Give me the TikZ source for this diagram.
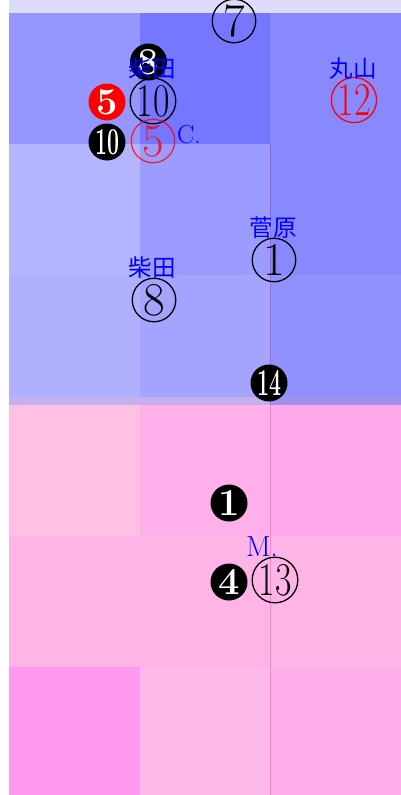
\documentclass[tikz,border=0pt]{standalone}
\usepackage{fontspec}
\newfontfamily\cjk{Noto Sans CJK JP}
\definecolor{ctop}{HTML}{DCDCFA}
\definecolor{ba}{HTML}{9696FF}\definecolor{bb}{HTML}{7676FF}\definecolor{bc}{HTML}{8888FF}
\definecolor{bd}{HTML}{B4B4FF}\definecolor{be}{HTML}{9C9CFF}\definecolor{bf}{HTML}{8888FF}
\definecolor{bg}{HTML}{B0B0FF}\definecolor{bh}{HTML}{A4A4FF}\definecolor{bi}{HTML}{9090FF}
\definecolor{mx}{HTML}{C4B0EC}\definecolor{my}{HTML}{A090F0}
\definecolor{pa}{HTML}{FFC0E4}\definecolor{pb}{HTML}{FFB0EA}\definecolor{pc}{HTML}{FFAAEA}
\definecolor{pd}{HTML}{FFB4E8}
\definecolor{pg}{HTML}{FF99F0}\definecolor{ph}{HTML}{FFB8EA}\definecolor{pi}{HTML}{FFAEEA}
\newcommand{\sqo}[1]{\scalebox{0.76}[1]{#1}}
\newcommand{\sqf}[1]{\scalebox{0.56}[1]{#1}}
\tikzset{
  oc/.style={circle, draw=black, line width=1.3pt, minimum size=43.5pt, inner sep=0pt,
    font=\fontsize{47}{47}\selectfont},
  ocred/.style={oc, draw=red, text=red},
  fc/.style={circle, fill=black, text=white, minimum size=37pt, inner sep=0pt,
    font=\fontsize{38}{38}\selectfont\bfseries},
  fcred/.style={fc, fill=red},
  lbl/.style={text=blue, inner sep=0pt, font=\fontsize{26}{26}\selectfont},
  jlbl/.style={lbl, font=\fontsize{23.5}{23.5}\selectfont\cjk},
}
\begin{document}
\begin{tikzpicture}[x=1pt, y=-1pt]
\useasboundingbox (0,0) rectangle (401,795);
% background cells
\fill[ctop] (9,0) rectangle (401,13);
\fill[ba] (9,13) rectangle (140,144);
\fill[bb] (140,13) rectangle (270,144);
\fill[bc] (270,13) rectangle (401,144);
\fill[bd] (9,144) rectangle (140,275);
\fill[be] (140,144) rectangle (270,275);
\fill[bf] (270,144) rectangle (401,275);
\fill[bg] (9,275) rectangle (140,397);
\fill[bh] (140,275) rectangle (270,397);
\fill[bi] (270,275) rectangle (401,397);
\fill[mx] (9,397) rectangle (270,405);
\fill[my] (270,397) rectangle (401,405);
\fill[pa] (9,405) rectangle (140,536);
\fill[pb] (140,405) rectangle (270,536);
\fill[pc] (270,405) rectangle (401,536);
\fill[pd] (9,536) rectangle (401,667);
\fill[pg] (9,667) rectangle (140,795);
\fill[ph] (140,667) rectangle (270,795);
\fill[pi] (270,667) rectangle (401,795);
\draw[magenta, opacity=0.25, line width=1pt] (270,144) -- (270,795);
% markers
\node[oc] (n7) at (234,21) {7};
\node[fc] (f8) at (148.5,62) {8};
\node[fcred] (f5) at (107,102) {5};
\node[oc] (n10) at (153,101) {\sqo{10}};
\node[fc] (f10) at (107,142) {\sqf{10}};
\node[ocred, opacity=0.8] (n5) at (153,141) {5};
\node[ocred] (n12) at (354,100) {\sqo{12}};
\node[oc] (n1) at (274,260) {1};
\node[oc] (n8) at (154,300) {8};
\node[fc] (f14) at (269,383) {\sqf{14}};
\node[fc] (f1) at (229,503) {1};
\node[fc] (f4) at (229,582) {4};
\node[oc] (n13) at (275,580) {\sqo{13}};
% labels
\node[jlbl] (lShibaA) at (152,69) {柴田};
\node[lbl] (lC) at (189,135) {C.};
\node[jlbl] (lMaru) at (353,69) {丸山};
\node[jlbl] (lSuga) at (273,228) {菅原};
\node[jlbl] (lShibaB) at (152,268) {柴田};
\node[lbl, font=\fontsize{29}{29}\selectfont] (lM) at (262,547) {M.};
\end{tikzpicture}
\end{document}
